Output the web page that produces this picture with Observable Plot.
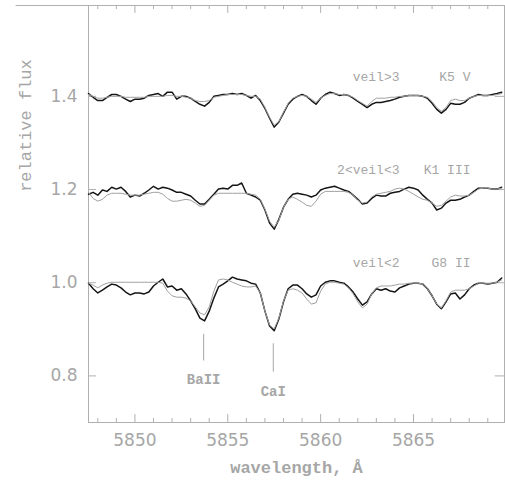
<!DOCTYPE html>
<html><head><meta charset="utf-8">
<script src="https://cdn.jsdelivr.net/npm/d3@7"></script>
<script src="https://cdn.jsdelivr.net/npm/@observablehq/plot@0.6"></script>
<style>body{margin:0;background:#fff} #chart svg{display:block}</style>
</head><body><div id="chart"></div><script>
// wavelength grid (Å)
const wavelength = [
5847.50,5847.75,5848.00,5848.25,5848.50,5848.75,5849.00,5849.25,5849.50,5849.75,
5850.00,5850.25,5850.50,5850.75,5851.00,5851.25,5851.50,5851.75,5852.00,5852.25,
5852.50,5852.75,5853.00,5853.25,5853.50,5853.75,5854.00,5854.25,5854.50,5854.75,
5855.00,5855.25,5855.50,5855.75,5856.00,5856.25,5856.50,5856.75,5857.00,5857.25,
5857.50,5857.75,5858.00,5858.25,5858.50,5858.75,5859.00,5859.25,5859.50,5859.75,
5860.00,5860.25,5860.50,5860.75,5861.00,5861.25,5861.50,5861.75,5862.00,5862.25,
5862.50,5862.75,5863.00,5863.25,5863.50,5863.75,5864.00,5864.25,5864.50,5864.75,
5865.00,5865.25,5865.50,5865.75,5866.00,5866.25,5866.50,5866.75,5867.00,5867.25,
5867.50,5867.75,5868.00,5868.25,5868.50,5868.75,5869.00,5869.25,5869.50,5869.75];

// veil>3 object vs K5 V template (offset 1.4)
const obsK5 = [
1.406,1.398,1.391,1.391,1.398,1.404,1.404,1.400,1.394,1.389,
1.394,1.394,1.396,1.402,1.404,1.406,1.400,1.409,1.409,1.394,
1.400,1.400,1.396,1.389,1.383,1.379,1.387,1.400,1.402,1.404,
1.404,1.406,1.404,1.406,1.402,1.396,1.402,1.391,1.374,1.353,
1.334,1.345,1.364,1.383,1.394,1.400,1.404,1.400,1.391,1.383,
1.396,1.404,1.409,1.406,1.402,1.404,1.402,1.396,1.389,1.383,
1.376,1.383,1.387,1.387,1.389,1.391,1.394,1.398,1.400,1.402,
1.402,1.402,1.400,1.396,1.385,1.372,1.364,1.372,1.385,1.383,
1.383,1.387,1.396,1.400,1.404,1.402,1.402,1.404,1.406,1.409];
const tplK5 = [
1.404,1.400,1.396,1.396,1.398,1.400,1.400,1.400,1.398,1.398,
1.398,1.398,1.398,1.400,1.400,1.400,1.400,1.402,1.402,1.400,
1.400,1.398,1.396,1.391,1.389,1.389,1.391,1.398,1.400,1.402,
1.404,1.404,1.404,1.404,1.402,1.400,1.400,1.394,1.376,1.355,
1.338,1.346,1.366,1.385,1.396,1.400,1.402,1.400,1.394,1.387,
1.396,1.402,1.406,1.406,1.404,1.404,1.402,1.398,1.391,1.385,
1.379,1.389,1.396,1.396,1.396,1.398,1.398,1.400,1.400,1.402,
1.402,1.402,1.400,1.398,1.389,1.376,1.368,1.376,1.391,1.394,
1.391,1.391,1.396,1.400,1.402,1.402,1.402,1.402,1.404,1.406];

// 2<veil<3 object vs K1 III template (offset 1.2)
const obsK1 = [
1.190,1.194,1.188,1.199,1.196,1.205,1.201,1.205,1.196,1.184,
1.188,1.186,1.192,1.199,1.207,1.201,1.205,1.203,1.199,1.194,
1.194,1.190,1.186,1.177,1.169,1.169,1.179,1.190,1.201,1.203,
1.201,1.209,1.209,1.214,1.192,1.188,1.184,1.177,1.156,1.128,
1.115,1.136,1.162,1.179,1.190,1.192,1.190,1.188,1.184,1.188,
1.199,1.203,1.205,1.207,1.203,1.199,1.196,1.188,1.179,1.169,
1.171,1.181,1.188,1.186,1.186,1.192,1.194,1.196,1.201,1.205,
1.203,1.199,1.188,1.179,1.171,1.156,1.160,1.171,1.177,1.177,
1.179,1.184,1.188,1.196,1.203,1.203,1.203,1.201,1.201,1.205];
const tplK1 = [
1.194,1.181,1.175,1.179,1.188,1.192,1.192,1.192,1.190,1.188,
1.188,1.188,1.190,1.192,1.194,1.194,1.190,1.181,1.175,1.175,
1.177,1.179,1.177,1.171,1.164,1.166,1.177,1.188,1.192,1.192,
1.192,1.192,1.192,1.192,1.192,1.190,1.188,1.179,1.158,1.132,
1.119,1.134,1.162,1.179,1.184,1.179,1.173,1.166,1.164,1.175,
1.190,1.196,1.196,1.196,1.196,1.196,1.194,1.188,1.177,1.171,
1.173,1.184,1.190,1.192,1.194,1.196,1.201,1.203,1.201,1.196,
1.190,1.184,1.179,1.177,1.171,1.164,1.166,1.175,1.184,1.188,
1.186,1.186,1.188,1.194,1.201,1.203,1.203,1.201,1.201,1.203];

// veil<2 object vs G8 II template (offset 1.0)
const obsG8 = [
0.999,0.987,0.978,0.984,0.991,0.997,0.995,0.989,0.980,0.974,
0.978,0.978,0.976,0.980,0.993,1.001,1.008,0.991,0.993,0.984,
0.987,0.976,0.961,0.944,0.924,0.918,0.939,0.967,0.991,0.997,
1.004,1.012,1.008,1.006,1.004,0.999,0.997,0.978,0.939,0.907,
0.897,0.922,0.959,0.987,0.995,0.995,0.987,0.976,0.969,0.974,
0.993,1.001,1.004,1.004,1.001,0.999,0.991,0.980,0.965,0.952,
0.959,0.976,0.987,0.984,0.987,0.982,0.980,0.989,0.993,0.997,
0.999,0.999,0.997,0.987,0.972,0.954,0.944,0.959,0.976,0.978,
0.965,0.974,0.987,0.995,0.999,0.999,0.997,0.999,1.001,1.010];
const tplG8 = [
0.999,0.995,0.989,0.995,0.999,1.001,1.001,1.001,1.001,1.001,
1.001,1.001,1.001,1.001,1.001,1.001,0.999,0.982,0.972,0.969,
0.969,0.967,0.961,0.948,0.935,0.931,0.948,0.982,1.006,1.008,
1.006,1.001,0.997,0.993,0.991,0.991,0.993,0.978,0.939,0.909,
0.901,0.924,0.961,0.984,0.987,0.984,0.978,0.965,0.954,0.957,
0.982,0.997,1.001,1.001,0.999,0.997,0.989,0.976,0.959,0.946,
0.954,0.976,0.989,0.993,0.993,0.993,0.995,0.997,0.997,0.999,
0.999,0.999,0.997,0.987,0.972,0.954,0.946,0.961,0.980,0.984,
0.984,0.984,0.987,0.993,0.999,0.999,0.999,0.999,1.001,1.006];

const starLabels = ["K5 V", "K1 III", "G8 II"];
const veilLabels = ["veil>3", "2<veil<3", "veil<2"];
const levels = [1.4, 1.2, 1.0];

const lineNames = ["BaII", "CaI"];
const lineWaves = [5853.7, 5857.45];
const lineTop = [0.889, 0.869];
const lineBottom = [0.832, 0.808];
const lineLabelY = [0.792, 0.766];

const xMajor = [5850, 5855, 5860, 5865];
const xMinor = [5848,5849,5851,5852,5853,5854,5856,5857,5858,5859,5861,5862,5863,5864,5866,5867,5868,5869];
const yMajor = [0.8, 1.0, 1.2, 1.4];

const obsSets = [obsK5, obsK1, obsG8];
const tplSets = [tplK5, tplK1, tplG8];
const obsRows = obsSets.flatMap((arr, k) => wavelength.map((w, i) => ({w, f: arr[i], star: starLabels[k]})));
const tplRows = tplSets.flatMap((arr, k) => wavelength.map((w, i) => ({w, f: arr[i], star: starLabels[k]})));
const annRows = levels.map((l, k) => ({level: l, star: starLabels[k], veil: veilLabels[k]}));
const idRows = lineNames.map((n, k) => ({name: n, w: lineWaves[k], top: lineTop[k], bottom: lineBottom[k], ly: lineLabelY[k]}));

const X0 = 5847.5, X1 = 5869.9, Y0 = 0.7, Y1 = 1.595;
const axisGray = "#b0b0b0", textGray = "#a6a6a6";
const mono = "'Liberation Mono', 'DejaVu Sans Mono', monospace";

const chart = Plot.plot({
  width: 505, height: 483,
  marginLeft: 88, marginRight: 1, marginTop: 5, marginBottom: 61,
  style: {background: "#fff", fontFamily: "'DejaVu Sans', sans-serif"},
  x: {domain: [X0, X1]},
  y: {domain: [Y0, Y1]},
  marks: [
    Plot.frame({stroke: axisGray}),
    Plot.ruleY([Y1], {x1: 5843.6, x2: X1, stroke: axisGray}),
    Plot.ruleX(xMajor, {y1: Y0, y2: Y0 + 0.017, stroke: axisGray}),
    Plot.ruleX(xMinor, {y1: Y0, y2: Y0 + 0.0086, stroke: axisGray}),
    Plot.ruleX(xMajor, {y1: Y1, y2: Y1 - 0.017, stroke: axisGray}),
    Plot.ruleX(xMinor, {y1: Y1, y2: Y1 - 0.0086, stroke: axisGray}),
    Plot.ruleY(yMajor, {x1: X0, x2: X0 + 0.43, stroke: axisGray}),
    Plot.ruleY(yMajor, {x1: X1, x2: X1 - 0.5, stroke: axisGray}),
    Plot.axisX({ticks: xMajor, tickSize: 0, tickPadding: 11, tickFormat: d => String(d), fontSize: 17, fill: textGray, label: null}),
    Plot.axisY({ticks: yMajor, tickSize: 0, tickPadding: 11, tickFormat: d3.format(".1f"), fontSize: 17, fill: textGray, label: null}),
    Plot.text(["wavelength, Å"], {frameAnchor: "bottom", dy: 50, fontSize: 17, fontWeight: "bold", fontFamily: mono, fill: textGray}),
    Plot.text(["relative flux"], {frameAnchor: "left", y: [1.195], dx: -63, rotate: -90, fontSize: 17, fontFamily: mono, fill: textGray}),
    Plot.line(obsRows, {x: "w", y: "f", z: "star", stroke: "#151515", strokeWidth: 1.5}),
    Plot.line(tplRows, {x: "w", y: "f", z: "star", stroke: "#a0a0a0", strokeWidth: 1}),
    Plot.text(annRows, {y: "level", frameAnchor: "right", dx: -105, dy: -20, text: "veil", fontSize: 13, fontFamily: mono, fill: textGray}),
    Plot.text(annRows, {y: "level", frameAnchor: "right", dx: -34, dy: -20, text: "star", fontSize: 13, fontFamily: mono, fill: textGray}),
    Plot.ruleX(idRows, {x: "w", y1: "bottom", y2: "top", stroke: textGray}),
    Plot.text(idRows, {x: "w", y: "ly", text: "name", fontSize: 14, fontWeight: "bold", fontFamily: mono, fill: textGray})
  ]
});
document.getElementById("chart").append(chart);
</script></body></html>
